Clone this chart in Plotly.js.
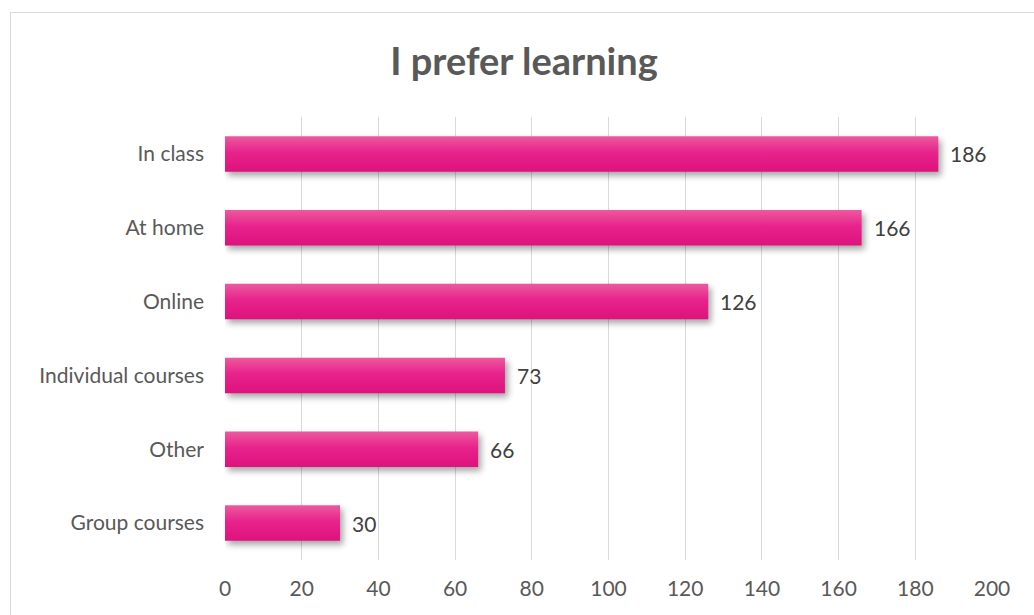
<!DOCTYPE html>
<html>
<head>
<meta charset="utf-8">
<script src="https://cdn.plot.ly/plotly-3.0.1.min.js"></script>
<style>
  html, body { margin: 0; padding: 0; background: #fff; }
  #wrap { position: relative; width: 1034px; height: 615px; overflow: hidden; }
  #chart { width: 1034px; height: 615px; }
  #frame { position: absolute; left: 10px; top: 12px; width: 1100px; height: 700px;
           border: 1px solid #D9D9D9; pointer-events: none; box-sizing: border-box; }
  .trace.bars .point path { filter: drop-shadow(3px 4px 3px rgba(0,0,0,0.35)); }
</style>
</head>
<body>
<div id="wrap">
  <div id="chart"></div>
  <div id="frame"></div>
</div>
<script>
const titleText = "I prefer learning";
const categories = ["In class", "At home", "Online", "Individual courses", "Other", "Group courses"];
const values = [186, 166, 126, 73, 66, 30];
const xTicks = [0, 20, 40, 60, 80, 100, 120, 140, 160, 180, 200];

const FONT = "Lato, 'Open Sans', sans-serif";
const barColor = "#E61E87";

const trace = {
  type: "bar",
  orientation: "h",
  x: values,
  y: categories,
  marker: { color: barColor, line: { width: 0 } },
  hoverinfo: "none",
  cliponaxis: false
};

const annotations = values.map((v, i) => ({
  x: v, y: categories[i], xref: "x", yref: "y",
  text: String(v), showarrow: false,
  xanchor: "left", yanchor: "middle", xshift: 10,
  font: { family: FONT, size: 21, color: "#404040" }
}));

const layout = {
  width: 1034, height: 615,
  margin: { l: 225, r: 42, t: 117, b: 55 },
  paper_bgcolor: "#fff", plot_bgcolor: "#fff",
  showlegend: false,
  bargap: 0.52,
  title: {
    text: "<b>" + titleText + "</b>",
    font: { family: FONT, size: 38, color: "#595959" },
    x: 524 / 1034, xanchor: "center", xref: "container",
    y: 1 - 62 / 615, yanchor: "middle", yref: "container"
  },
  xaxis: {
    range: [0, 200],
    tickvals: xTicks,
    ticktext: xTicks.map(String),
    showgrid: true, gridcolor: "#D9D9D9", gridwidth: 1,
    zeroline: false, showline: false, ticks: "",
    ticklabelstandoff: 14,
    tickfont: { family: FONT, size: 21, color: "#595959" },
    fixedrange: true
  },
  yaxis: {
    type: "category",
    categoryorder: "array", categoryarray: categories,
    autorange: "reversed",
    showgrid: false, zeroline: false, showline: false, ticks: "",
    ticklabelstandoff: 20,
    tickfont: { family: FONT, size: 21, color: "#595959" },
    fixedrange: true
  },
  annotations: annotations
};

Plotly.newPlot("chart", [trace], layout, { displayModeBar: false, staticPlot: true }).then(gd => {
  const svg = gd.querySelector("svg.main-svg");
  const NS = "http://www.w3.org/2000/svg";
  let defs = svg.querySelector("defs");
  if (!defs) { defs = document.createElementNS(NS, "defs"); svg.insertBefore(defs, svg.firstChild); }
  const grad = document.createElementNS(NS, "linearGradient");
  grad.setAttribute("id", "barGrad");
  grad.setAttribute("x1", "0"); grad.setAttribute("y1", "0");
  grad.setAttribute("x2", "0"); grad.setAttribute("y2", "1");
  [["0", "#EC5A9E"], ["0.45", "#E8238C"], ["1", "#DE127C"]].forEach(([o, c]) => {
    const s = document.createElementNS(NS, "stop");
    s.setAttribute("offset", o); s.setAttribute("stop-color", c);
    grad.appendChild(s);
  });
  defs.appendChild(grad);
  gd.querySelectorAll(".trace.bars .point path").forEach(p => {
    p.style.fill = "url(#barGrad)";
  });
});
</script>
</body>
</html>
